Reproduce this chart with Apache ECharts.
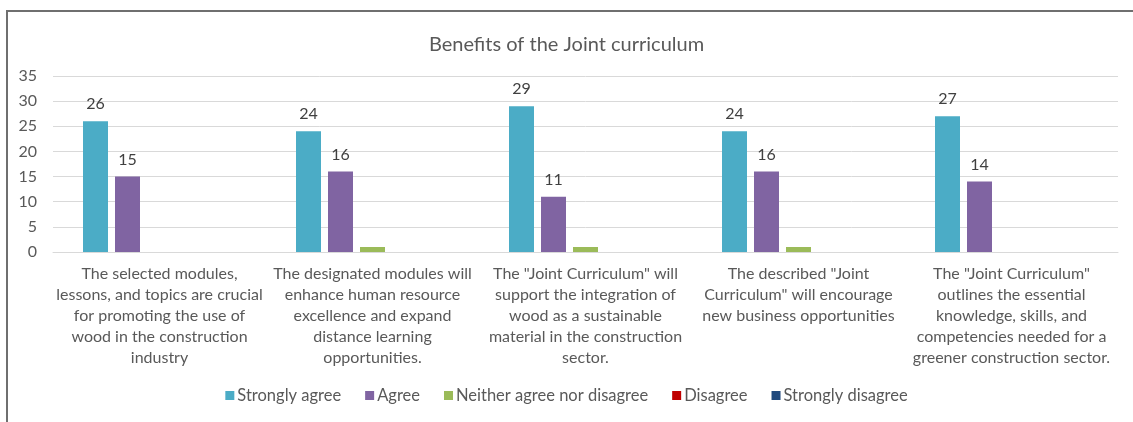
<!DOCTYPE html>
<html>
<head>
<meta charset="utf-8">
<style>
  html, body { margin: 0; padding: 0; background: #ffffff; }
  #chart { width: 1133px; height: 422px; }
</style>
<script src="https://cdn.jsdelivr.net/npm/echarts@6/dist/echarts.min.js"></script>
</head>
<body>
<div id="chart"></div>
<script>
// Survey statements (category axis)
const categories = [
  'The selected modules,\nlessons, and topics are crucial\nfor promoting the use of\nwood in the construction\nindustry',
  'The designated modules will\nenhance human resource\nexcellence and expand\ndistance learning\nopportunities.',
  'The "Joint Curriculum" will\nsupport the integration of\nwood as a sustainable\nmaterial in the construction\nsector.',
  'The described "Joint\nCurriculum" will encourage\nnew business opportunities',
  'The "Joint Curriculum"\noutlines the essential\nknowledge, skills, and\ncompetencies needed for a\ngreener construction sector.'
];

// Responses per answer option
const stronglyAgree = [26, 24, 29, 24, 27];
const agree = [15, 16, 11, 16, 14];
const neither = [0, 1, 1, 1, 0];
const disagree = [0, 0, 0, 0, 0];
const stronglyDisagree = [0, 0, 0, 0, 0];

const seriesNames = ['Strongly agree', 'Agree', 'Neither agree nor disagree', 'Disagree', 'Strongly disagree'];
const seriesData = [stronglyAgree, agree, neither, disagree, stronglyDisagree];
const seriesColors = ['#4BACC6', '#8064A2', '#9BBB59', '#C00000', '#1F497D'];
const labelled = [true, true, false, false, false];

const FONT = 'Lato';
const TEXT = '#595959';

const chart = echarts.init(document.getElementById('chart'), null, { renderer: 'canvas' });

chart.setOption({
  animation: false,
  textStyle: { fontFamily: FONT },
  title: {
    text: 'Benefits of the Joint curriculum',
    left: 'center',
    top: 30,
    textStyle: { fontFamily: FONT, fontSize: 20, fontWeight: 'normal', color: TEXT }
  },
  graphic: [{
    type: 'rect',
    shape: { x: 7, y: 11, width: 1200, height: 500 },
    style: { fill: 'none', stroke: '#6f6f6f', lineWidth: 2 },
    silent: true
  }],
  legend: {
    data: seriesNames,
    bottom: 13,
    left: 'center',
    itemWidth: 9,
    itemHeight: 9,
    itemGap: 24,
    icon: 'rect',
    textStyle: { fontFamily: FONT, fontSize: 16.5, color: TEXT, padding: [0, 0, 0, -2] }
  },
  grid: { left: 53, right: 15, top: 76, bottom: 170, containLabel: false },
  xAxis: {
    type: 'category',
    data: categories,
    axisLine: { lineStyle: { color: '#d9d9d9', width: 1 } },
    axisTick: { show: false },
    axisLabel: {
      interval: 0,
      fontFamily: FONT,
      fontSize: 16,
      lineHeight: 21,
      color: TEXT,
      margin: 11,
      align: 'center'
    }
  },
  yAxis: {
    type: 'value',
    min: 0,
    max: 35,
    interval: 5,
    axisLine: { show: false },
    axisTick: { show: false },
    splitLine: { lineStyle: { color: '#d9d9d9', width: 1 } },
    axisLabel: { fontFamily: FONT, fontSize: 16, color: TEXT, margin: 16 }
  },
  series: seriesNames.map((name, i) => ({
    name: name,
    type: 'bar',
    data: seriesData[i],
    barWidth: 25,
    barGap: '28%',
    itemStyle: { color: seriesColors[i] },
    label: {
      show: labelled[i],
      position: 'top',
      distance: 9,
      fontFamily: FONT,
      fontSize: 16,
      color: '#404040'
    }
  }))
});
</script>
</body>
</html>
